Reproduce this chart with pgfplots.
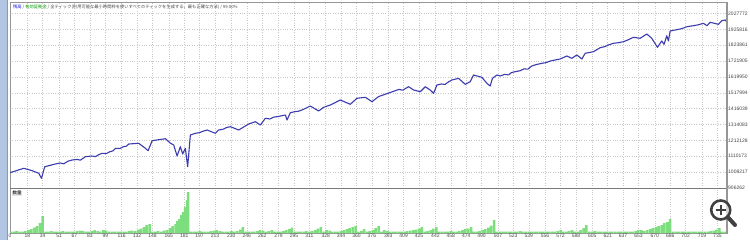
\documentclass[border=0pt]{standalone}
\usepackage{pgfplots}
\pgfplotsset{compat=1.18}
\usepackage{fontspec}
\setmainfont{Liberation Sans}
\newfontfamily\cjk{Noto Sans CJK JP}
\definecolor{eqblue}{RGB}{60,60,175}
\definecolor{barg}{RGB}{125,222,125}
\definecolor{gridc}{RGB}{200,200,200}
\definecolor{framec}{RGB}{150,150,150}
\definecolor{lbl}{RGB}{70,70,70}
\definecolor{strip}{RGB}{178,198,228}
\definecolor{stripedge}{RGB}{130,155,200}
\definecolor{tblue}{RGB}{20,20,230}
\definecolor{tgreen}{RGB}{0,150,0}
\begin{document}
\begin{tikzpicture}[x=1bp,y=1bp]
\path[use as bounding box] (0,0) rectangle (750,240);
\fill[white] (0,0) rectangle (750,240);
\fill[strip] (0,0) rectangle (7.5,240);
\draw[stripedge, line width=0.8] (7.5,0) -- (7.5,240);

\begin{axis}[
  at={(10bp,52bp)}, anchor=south west, scale only axis,
  width=717bp, height=186bp,
  xmin=0, xmax=745, ymin=906262, ymax=2101870,
  xtick={0,18,34,51,67,83,99,116,132,148,165,181,197,213,230,246,262,279,295,311,328,344,360,376,393,409,425,442,458,474,490,507,523,539,556,572,588,605,621,637,653,670,686,702,719,735},
  xticklabels={},
  ytick={906262,1008217,1110173,1212128,1314083,1416039,1517994,1619950,1721905,1823861,1925816,2027772},
  yticklabels={906262,1008217,1110173,1212128,1314083,1416039,1517994,1619950,1721905,1823861,1925816,2027772},
  scaled y ticks=false,
  yticklabel pos=right,
  tick style={draw=none},
  grid=major, major grid style={gridc, dotted, line width=0.5bp},
  axis line style={framec, line width=0.6bp},
  yticklabel style={font=\fontsize{5}{6}\selectfont, text=lbl, inner sep=1bp},
  /pgf/number format/assume math mode=true,
]
\addplot[eqblue, line width=1.1bp, line join=round] coordinates {
(0,1004600) (14.3,1032900) (23.1,1017500) (29.9,1000800) (32.7,968600) (36.1,1043200) (47.2,1060500) (52,1067000) (56,1062000) (60,1078000) (64.6,1086200) (70,1090000) (73,1085000) (78.4,1107500) (85,1112000) (89,1108000) (92,1120000) (95.7,1129300) (100,1127000) (104,1140000) (107,1145000) (109.6,1161500) (114,1160000) (118,1172000) (121,1175000) (123.4,1189100) (133.7,1193600) (140.7,1161500) (143.5,1146000) (147.7,1210300) (161.5,1223200) (166.7,1193600) (170.1,1182700) (173.6,1112000) (177,1171700) (179.4,1124800) (182.2,1161500) (184.6,1043200) (187.4,1246900) (192.6,1257900) (197,1262000) (200,1270000) (204.8,1279100) (213.4,1257900) (216.8,1279100) (221,1283000) (225,1295000) (229,1300300) (237.6,1279100) (248,1317700) (254.9,1332400) (260.1,1311200) (265.3,1354300) (270,1350000) (274,1362000) (277.5,1364600) (286.1,1375500) (287.8,1343400) (291.3,1390300) (296,1397000) (300,1400000) (305.1,1412100) (312,1433400) (320.7,1401200) (325.9,1425000) (332.8,1439800) (343.2,1471900) (353.6,1444300) (360.5,1482900) (369.2,1489300) (376.1,1461000) (383,1494000) (400.3,1531700) (404,1540000) (408,1535000) (414.1,1557400) (419.3,1536200) (426.3,1525300) (431.5,1557400) (436.6,1536200) (440.1,1515000) (443.6,1568300) (448,1575000) (452,1572000) (456,1590000) (459.2,1600500) (466,1611400) (473,1572800) (478.2,1589600) (481.6,1632600) (490.3,1617800) (495.5,1579300) (498.9,1561900) (501.3,1611400) (505.9,1632600) (509.3,1626200) (514,1637000) (518,1633000) (521,1648000) (524.9,1653800) (530,1660000) (534,1672000) (538,1670000) (542.2,1690500) (547,1700000) (552.6,1707800) (557,1712000) (561,1722000) (566.4,1729000) (571.6,1735500) (578.6,1754800) (583.8,1740000) (589,1761200) (594.2,1735500) (597.6,1772100) (606.2,1782400) (613.2,1808100) (618,1815000) (622,1826000) (627,1836400) (632,1840000) (637.4,1846700) (642,1858000) (647.8,1875000) (654.7,1868500) (661.7,1896200) (666.8,1868500) (672.7,1810700) (677.2,1851200) (679.6,1830000) (682.4,1885200) (684.1,1851200) (685.9,1915500) (696.3,1928300) (700,1935000) (703.3,1943100) (710.1,1949500) (715,1955000) (720.5,1965000) (724.1,1949500) (727.5,1971400) (736.1,1958500) (739.6,1981700) (743.2,1986200) (745,1971400)
};
\draw[framec, line width=1.8bp] (rel axis cs:1,0) -- (rel axis cs:1,1);
\node[anchor=north west, inner sep=0pt, text=lbl, font=\cjk\fontsize{4.3}{5}\selectfont] at ([xshift=3bp,yshift=-2.5bp]rel axis cs:0,1) {\textcolor{tblue}{残高} / \textcolor{tgreen}{有効証拠金} / 全ティック(利用可能な最小時間枠を使いすべてのティックを生成する、最も正確な方法) / 99.00\%};
\end{axis}

\begin{axis}[
  at={(10bp,7bp)}, anchor=south west, scale only axis,
  width=717bp, height=45bp,
  xmin=0, xmax=745, ymin=0, ymax=45,
  xtick={0,18,34,51,67,83,99,116,132,148,165,181,197,213,230,246,262,279,295,311,328,344,360,376,393,409,425,442,458,474,490,507,523,539,556,572,588,605,621,637,653,670,686,702,719,735},
  ytick=\empty,
  xmajorgrids, major grid style={gridc, dotted, line width=0.5bp},
  tick style={draw=none},
  axis line style={framec, line width=0.6bp},
  xticklabel style={font=\fontsize{5}{6}\selectfont, text=lbl, inner sep=0.8bp},
  /pgf/number format/assume math mode=true,
]
\addplot[ybar, bar width=2.6, fill=barg, draw=none] coordinates {
(1,1.5) (4,1.5) (7,2) (10,1.5) (13,1.5) (16,2) (19,3) (22,4) (25,5.5) (28,7) (31,10) (34,17) (37,1.5) (40,1.5) (43,2) (46,1.5) (49,1.5) (52,1.5) (55,2) (58,1.5) (61,1.5) (64,1.5) (67,1.5) (70,2) (73,2.5) (76,2) (79,1.5) (82,1.5) (85,2) (88,3) (91,2) (94,1.5) (97,3) (100,2.5) (103,1.5) (106,1.5) (109,1.5) (112,1.5) (115,1.5) (118,1.5) (121,1.5) (124,2) (127,2.5) (130,2) (133,3.5) (136,4.5) (139,6) (142,8) (145,9) (148,1.5) (151,1.5) (154,2) (157,1.5) (160,2.5) (163,3) (166,5) (169,7) (172,9) (174,12) (176,14) (178,18) (180,21) (182,26) (184,33) (185,41)
(188,1.5) (191,1.5) (194,1.5) (197,2) (200,1.5) (203,1.5) (206,1.5) (209,2) (212,2.5) (215,3) (218,2) (221,1.5) (224,1.5) (227,1.5) (230,2) (233,1.5) (236,2) (239,3.5) (242,6) (245,1.5) (248,1.5) (251,1.5) (254,1.5) (257,2) (260,3) (263,2.5) (266,1.5) (269,2) (272,3) (275,1.5) (278,1.5) (281,1.5) (284,2) (287,3) (290,4) (293,5.5) (296,1.5) (299,1.5) (302,1.5) (305,1.5) (308,2) (311,1.5) (314,2) (317,3) (320,4.5) (323,6) (326,1.5) (329,3) (332,2.5) (335,1.5) (338,1.5) (341,1.5) (344,2) (347,3) (350,4) (353,5) (356,6) (359,7) (362,1.5) (365,2) (368,4) (371,1.5) (374,2) (377,3) (380,5) (383,7) (386,1.5) (389,3) (392,2) (395,1.5) (398,1.5) (401,1.5) (404,1.5) (407,1.5) (410,1.5) (413,2) (416,2.5) (419,3) (422,3.5) (425,4.5) (428,6) (431,1.5) (434,2) (437,3) (440,4.5) (443,6) (446,1.5) (449,1.5) (452,1.5) (455,1.5) (458,2) (461,1.5) (464,1.5) (467,2) (470,3) (473,4) (476,4.5) (479,6) (482,1.5) (485,1.5) (488,2) (491,3) (494,4) (497,5.5) (500,7.5) (503,13)
(506,1.5) (509,1.5) (512,1.5) (515,1.5) (518,1.5) (521,1.5) (524,1.5) (527,1.5) (530,2) (533,1.5) (536,1.5) (539,1.5) (542,1.5) (545,1.5) (548,1.5) (551,1.5) (554,1.5) (557,1.5) (560,1.5) (563,1.5) (566,1.5) (569,2) (572,3) (575,1.5) (578,1.5) (581,2) (584,3) (587,1.5) (590,1.5) (593,3) (596,5) (599,8) (602,1.5) (605,1.5) (608,2) (611,1.5) (614,1.5) (617,1.5) (620,1.5) (623,1.5) (626,1.5) (629,1.5) (632,1.5) (635,1.5) (638,1.5) (641,1.5) (644,1.5) (647,1.5) (650,2) (653,3) (656,3) (659,2) (662,3) (665,4) (668,5) (671,6) (674,7) (677,8) (680,10) (683,11) (686,14) (689,1.5) (692,1.5) (695,1.5) (698,1.5) (701,1.5) (704,1.5) (707,1.5) (710,1.5) (713,1.5) (716,1.5) (719,1.5) (722,1.5) (725,1.5) (728,2) (731,2.5) (734,3.5) (737,5) (740,1.5) (743,1.5)
};
\draw[framec!80!black, line width=1.5bp] (rel axis cs:0,1) -- (rel axis cs:1,1);
\draw[framec, line width=1.8bp] (rel axis cs:1,0) -- (rel axis cs:1,1);
\node[anchor=north west, font=\cjk\fontsize{4.5}{5}\selectfont, fill=gray!20, inner sep=0.4bp] at ([xshift=2bp,yshift=-2.5bp]rel axis cs:0,1) {数量};
\end{axis}

\fill[white, opacity=0.6] (720.7,30) circle (9.5);
\draw[black!75, line width=2.6] (720.7,30) circle (9.5);
\draw[black!75, line width=4, line cap=round] (727.8,22.9) -- (735,15);
\draw[black!75, line width=2.2] (715.5,30) -- (725.9,30) (720.7,24.8) -- (720.7,35.2);
\end{tikzpicture}
\end{document}
